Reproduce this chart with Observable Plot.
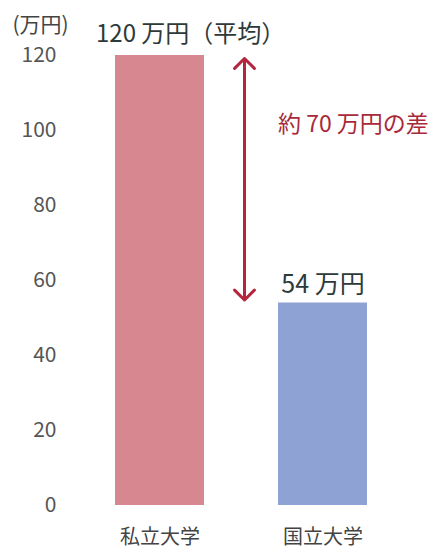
<!DOCTYPE html>
<html><head><meta charset="utf-8">
<script src="https://cdn.jsdelivr.net/npm/d3@7"></script>
<script src="https://cdn.jsdelivr.net/npm/@observablehq/plot@0.6"></script>
<style>
body{margin:0;background:#fff;}
svg{font-family:"Noto Sans CJK JP","Noto Sans",sans-serif;}
</style></head>
<body><div id="chart"></div>
<script>
const categories = ["私立大学", "国立大学"];
const values = [120, 54];
const valueLabels = ["120 万円（平均）", "54 万円"];
const yTicks = [0, 20, 40, 60, 80, 100, 120];
const unitLabel = "(万円)";
const diffLabel = "約 70 万円の差";
const barColors = ["#d7878f", "#8ea3d4"];

const data = categories.map((c, i) => ({cat: c, value: values[i], label: valueLabels[i], color: barColors[i]}));
const mid = (values[0] + values[1]) / 2;

const chart = Plot.plot({
  width: 444,
  height: 550,
  marginTop: 55,
  marginBottom: 45,
  marginLeft: 65,
  marginRight: 28,
  style: {fontSize: "18px"},
  x: {domain: categories, paddingInner: 0.456, paddingOuter: 0.3, label: null},
  y: {domain: [0, 120], label: null},
  marks: [
    Plot.barY(data, {x: "cat", y: "value", fill: "color"}),
    Plot.axisY({ticks: yTicks, tickSize: 0, tickPadding: 9, fontSize: 21, fill: "#555", label: null}),
    Plot.axisX({tickSize: 0, tickPadding: 24, fontSize: 20, fill: "#444", label: null}),
    Plot.text([unitLabel], {frameAnchor: "top-left", text: d => d, textAnchor: "middle", dx: -25, dy: -38, fontSize: 21, fill: "#444"}),
    Plot.text([data[0]], {x: "cat", y: "value", text: "label", textAnchor: "start", dx: -64, dy: -21, fontSize: 24, fill: "#2e3a3a"}),
    Plot.text([data[1]], {x: "cat", y: "value", text: "label", dy: -18, fontSize: 25, fill: "#2e3a3a"}),
    Plot.arrow([{y1: mid, y2: values[0]}, {y1: mid, y2: values[1]}], {
      x1: () => categories[0], x2: () => categories[0], y1: "y1", y2: "y2",
      dx: 84.5, stroke: "#b3263d", strokeWidth: 3, headLength: 7, headAngle: 90, insetEnd: 3
    }),
    Plot.text([diffLabel], {x: () => categories[1], y: () => values[0], text: d => d, textAnchor: "start", dx: -45, dy: 69, fontSize: 23, fill: "#a8293a"})
  ]
});
document.getElementById("chart").appendChild(chart);
</script>
</body></html>
